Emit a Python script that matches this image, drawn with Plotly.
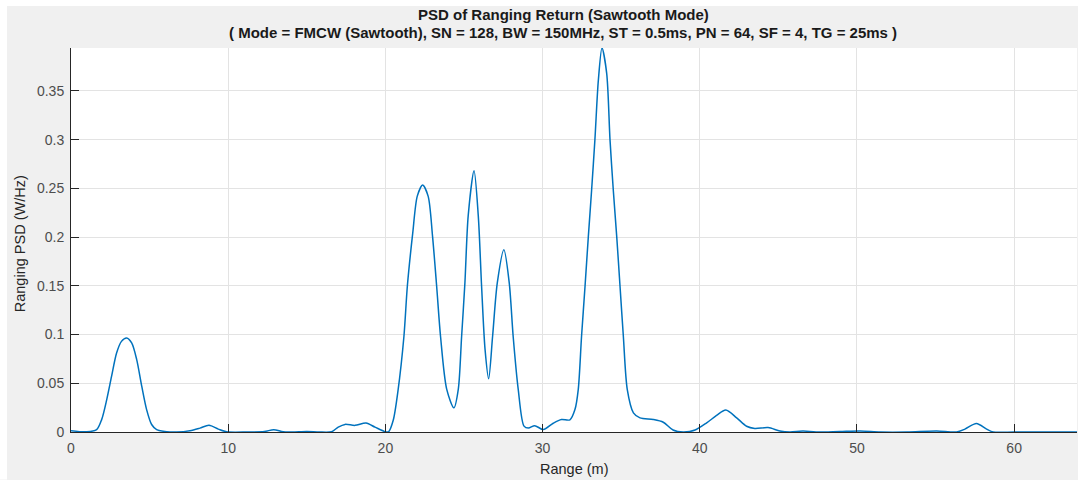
import plotly.graph_objects as go

# Range bins (m) and ranging PSD (W/Hz)
range_m = [0, 1.0, 1.63, 1.95, 2.27, 2.58, 2.9, 3.21, 3.54, 3.86, 4.18, 4.5, 4.81, 5.13, 5.45,
           6.09, 6.72, 7.57, 8.2, 8.78, 9.37, 9.9, 11.2, 12.3, 12.9, 13.5, 14.1, 15.0, 15.8,
           16.58, 17.0, 17.43, 18.07, 18.77, 19.34, 19.97, 20.2, 20.5, 20.8, 21.18, 21.4, 21.74,
           22.03, 22.37, 22.72, 23.0, 23.26, 23.51, 23.9, 24.36, 24.64, 24.85, 25.06, 25.27,
           25.64, 25.91, 26.12, 26.34, 26.57, 26.82, 27.12, 27.54, 27.88, 28.13, 28.45, 28.82,
           29.1, 29.5, 30.05, 30.68, 31.2, 31.74, 32.06, 32.27, 32.48, 32.7, 32.91, 33.12, 33.33,
           33.55, 33.78, 34.08, 34.29, 34.5, 34.72, 34.93, 35.14, 35.39, 35.78, 36.2, 37.04,
           37.68, 38.3, 38.95, 39.7, 40.44, 41.07, 41.66, 42.35, 42.98, 43.5, 44.35, 45.1,
           45.74, 46.57, 47.4, 48.9, 50.2, 51.5, 53.2, 55.07, 56.34, 56.87, 57.6, 58.25, 58.67,
           60.0, 61.5, 63.0, 64.0]

psd = [0.0014, 0.0002, 0.0024, 0.0127, 0.033, 0.057, 0.081, 0.093, 0.0965, 0.0914, 0.0743,
       0.047, 0.023, 0.0077, 0.0024, 0.0003, 0.0, 0.0014, 0.004, 0.0068, 0.003, 0.0002, 0.0,
       0.0005, 0.0024, 0.0002, 0.0, 0.0006, 0.0, 0.0003, 0.005, 0.0078, 0.0068, 0.0092, 0.005,
       0.0004, 0.0002, 0.012, 0.042, 0.098, 0.15, 0.204, 0.242, 0.2534, 0.242, 0.201, 0.15,
       0.098, 0.044, 0.0248, 0.044, 0.098, 0.153, 0.222, 0.268, 0.222, 0.15, 0.085, 0.0546,
       0.098, 0.153, 0.187, 0.153, 0.098, 0.044, 0.006, 0.004, 0.0065, 0.0025, 0.009, 0.0128,
       0.0125, 0.023, 0.0435, 0.098, 0.149, 0.2, 0.248, 0.3, 0.361, 0.394, 0.368, 0.3, 0.248,
       0.2, 0.149, 0.098, 0.0435, 0.0197, 0.0145, 0.0128, 0.01, 0.002, 0.0, 0.002, 0.0094,
       0.017, 0.0225, 0.0145, 0.0059, 0.0037, 0.0045, 0.001, 0.0, 0.001, 0.0, 0.0005, 0.001,
       0.0, 0.0, 0.001, 0.0, 0.003, 0.0087, 0.003, 0.0, 0.0, 0.0, 0.0, 0.0]

x_ticks = [0, 10, 20, 30, 40, 50, 60]
y_ticks = [0, 0.05, 0.1, 0.15, 0.2, 0.25, 0.3, 0.35]
y_tick_text = ["0", "0.05", "0.1", "0.15", "0.2", "0.25", "0.3", "0.35"]

title_line1 = "PSD of Ranging Return (Sawtooth Mode)"
title_line2 = "( Mode = FMCW (Sawtooth), SN = 128, BW = 150MHz, ST = 0.5ms, PN = 64, SF = 4, TG = 25ms )"

FONT = "Liberation Sans, Arial, Helvetica, sans-serif"
W, H = 1078, 480
L, R, T, B = 71, 1, 48, 47.5
pw, ph = W - L - R, H - T - B

def px_x(p):
    return (p - L) / pw

def px_y(p):
    return (H - B - p) / ph

fig = go.Figure()
fig.add_trace(go.Scatter(
    x=range_m, y=psd, mode="lines",
    line=dict(color="#0072BD", width=1.5, shape="spline", smoothing=0.8),
    hoverinfo="x+y", showlegend=False,
))

axis_common = dict(
    showline=True, linecolor="#262626", linewidth=1,
    ticks="inside", ticklen=8, tickcolor="#262626", tickwidth=1,
    showgrid=True, gridcolor="#e3e3e3", gridwidth=1,
    zeroline=False, mirror=False,
    tickfont=dict(family=FONT, size=14, color="#4d4d4d"),
)

fig.update_xaxes(range=[0, 64], tickvals=x_ticks, ticklabelstandoff=3, **axis_common)
fig.update_yaxes(range=[0, 0.394], tickvals=y_ticks, ticktext=y_tick_text,
                 ticklabelstandoff=3, **axis_common)

annotations = [
    dict(text="<b>" + title_line1 + "</b>", xref="paper", yref="paper",
         x=px_x(563), y=px_y(14), xanchor="center", yanchor="middle", showarrow=False,
         font=dict(family=FONT, size=15, color="#1a1a1a")),
    dict(text="<b>" + title_line2 + "</b>", xref="paper", yref="paper",
         x=px_x(563), y=px_y(32.5), xanchor="center", yanchor="middle", showarrow=False,
         font=dict(family=FONT, size=15, color="#1a1a1a")),
    dict(text="Range (m)", xref="paper", yref="paper",
         x=px_x(574), y=px_y(470), xanchor="center", yanchor="middle", showarrow=False,
         font=dict(family=FONT, size=14.5, color="#262626")),
    dict(text="Ranging PSD (W/Hz)", xref="paper", yref="paper", textangle=-90,
         x=px_x(19.5), y=px_y(244), xanchor="center", yanchor="middle", showarrow=False,
         font=dict(family=FONT, size=14.5, color="#262626")),
]

# white strips along the top and left edges of the grey figure background
shapes = [
    dict(type="rect", xref="paper", yref="paper", layer="below", line=dict(width=0),
         fillcolor="white", x0=px_x(0), x1=px_x(W), y0=px_y(6), y1=px_y(0)),
    dict(type="rect", xref="paper", yref="paper", layer="below", line=dict(width=0),
         fillcolor="white", x0=px_x(0), x1=px_x(7), y0=px_y(H), y1=px_y(0)),
]

fig.update_layout(
    width=W, height=H,
    margin=dict(l=L, r=R, t=T, b=B, autoexpand=False),
    paper_bgcolor="#f0f0f0", plot_bgcolor="white",
    annotations=annotations, shapes=shapes,
    font=dict(family=FONT),
)

fig.write_html("out.html")
